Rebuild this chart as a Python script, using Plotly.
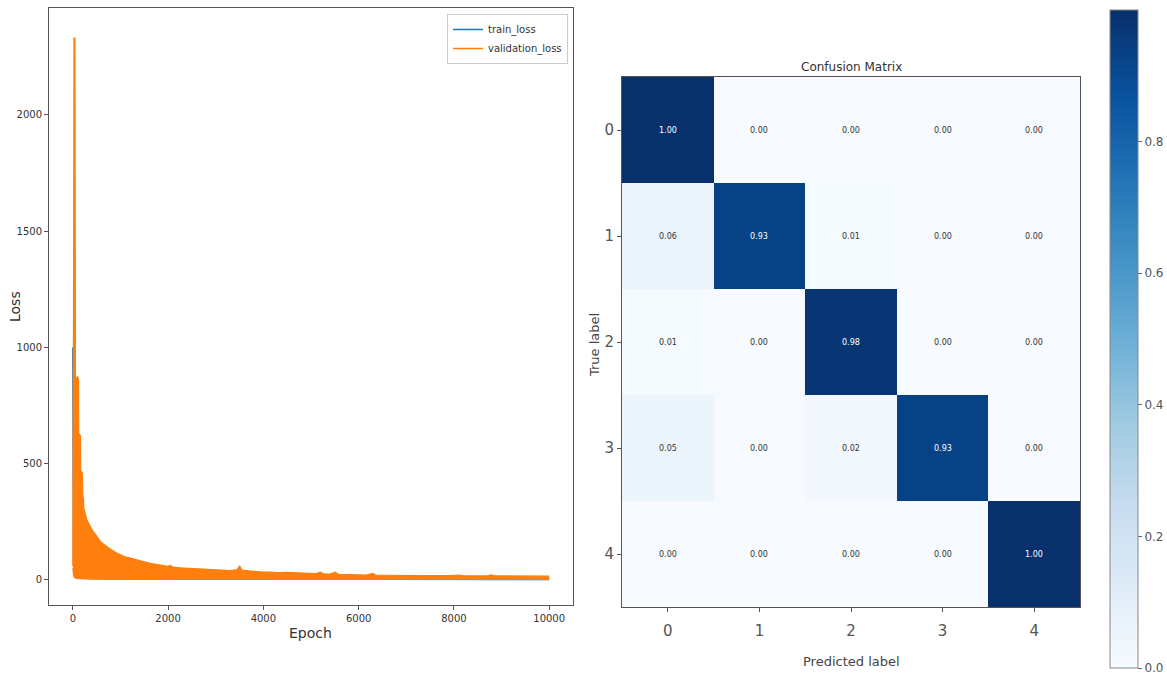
import plotly.graph_objects as go

# ---------------- data: loss curves ----------------
train_epoch = [0, 5, 15, 30, 60, 100, 300, 1000, 3000, 6000, 10000]
train_loss = [1000, 300, 80, 30, 15, 10, 6, 4, 3, 2.5, 2]

val_epoch = [0, 8, 15, 25, 45, 55, 80, 100, 120, 125, 160, 165, 200, 212, 225, 230,
             260, 300, 340, 370, 420, 480, 527, 580, 640, 700, 763, 830, 900, 1000,
             1080, 1150, 1230, 1314, 1400, 1500, 1630, 1750, 1880, 2000, 2050, 2100,
             2250, 2400, 2550, 2700, 2850, 3000, 3150, 3300, 3450, 3500, 3550, 3700,
             3850, 3990, 4150, 4300, 4500, 4650, 4800, 4950, 5100, 5200, 5260, 5400,
             5500, 5580, 5750, 5950, 6150, 6300, 6360, 6550, 6750, 6950, 7150, 7350,
             7550, 7750, 7950, 8100, 8200, 8450, 8700, 8780, 8850, 9100, 9350, 9600,
             9850, 10000]
val_upper = [60, 400, 1200, 2330, 2330, 880, 860, 875, 860, 630, 620, 470, 460, 360, 350, 310,
             290, 255, 240, 229, 210, 195, 182, 165, 155, 145, 136, 128, 118, 108,
             100, 97, 92, 89, 84, 78, 71, 66, 62, 58, 62, 55,
             52, 50, 48, 46, 45, 44, 42, 40, 44, 61, 42, 38,
             35, 33, 34, 31, 32, 30, 29, 28, 27, 33, 26, 25,
             33, 24, 23, 22, 21, 28, 20, 20, 19, 19, 18, 18,
             19, 18, 18, 21, 18, 17, 17, 22, 17, 17, 17, 16,
             17, 16]
val_lower_epoch = [0, 15, 40, 100, 500, 2000, 10000]
val_lower = [50, 15, 8, 5, 3, 2, 2]

x_ticks = [0, 2000, 4000, 6000, 8000, 10000]
y_ticks = [0, 500, 1000, 1500, 2000]

# ---------------- data: confusion matrix ----------------
classes = ["0", "1", "2", "3", "4"]
cm = [
    [1.00, 0.00, 0.00, 0.00, 0.00],
    [0.06, 0.93, 0.01, 0.00, 0.00],
    [0.01, 0.00, 0.98, 0.00, 0.00],
    [0.05, 0.00, 0.02, 0.93, 0.00],
    [0.00, 0.00, 0.00, 0.00, 1.00],
]
cbar_ticks = [0.0, 0.2, 0.4, 0.6, 0.8]

W, H = 1167, 679
BLUE = "#1f77b4"
ORANGE = "#ff7f0e"
blues = ["#f7fbff", "#deebf7", "#c6dbef", "#9ecae1", "#6baed6",
         "#4292c6", "#2171b5", "#08519c", "#08306b"]
blues_scale = [[i / (len(blues) - 1), c] for i, c in enumerate(blues)]

fig = go.Figure()

# train loss (under the validation band)
fig.add_trace(go.Scatter(x=train_epoch, y=train_loss, mode="lines",
                         line=dict(color=BLUE, width=1.5), name="train_loss",
                         xaxis="x", yaxis="y"))
# validation loss band (lower then upper filled)
fig.add_trace(go.Scatter(x=val_lower_epoch, y=val_lower, mode="lines",
                         line=dict(color=ORANGE, width=1), showlegend=False,
                         hoverinfo="skip", xaxis="x", yaxis="y"))
fig.add_trace(go.Scatter(x=val_epoch, y=val_upper, mode="lines",
                         line=dict(color=ORANGE, width=1.2), fill="tonexty",
                         fillcolor=ORANGE, showlegend=False, name="validation_loss",
                         xaxis="x", yaxis="y"))
# legend entry for validation loss
fig.add_trace(go.Scatter(x=[None], y=[None], mode="lines",
                         line=dict(color=ORANGE, width=1.5), name="validation_loss",
                         xaxis="x", yaxis="y"))

# confusion matrix heatmap
fig.add_trace(go.Heatmap(z=cm, x=list(range(len(classes))), y=list(range(len(classes))),
                         colorscale=blues_scale, zmin=0, zmax=1.0,
                         xaxis="x2", yaxis="y2", showscale=True,
                         colorbar=dict(x=1110 / W, xanchor="left", xpad=0,
                                       y=1 - 10 / H, yanchor="top", ypad=0,
                                       len=658 / H, lenmode="fraction",
                                       thickness=28, outlinecolor="#888", outlinewidth=1,
                                       tickvals=cbar_ticks,
                                       ticktext=[f"{v:.1f}" for v in cbar_ticks],
                                       ticks="outside", ticklen=4, tickcolor="#666",
                                       tickfont=dict(size=12, color="#555"))))

annotations = []
for i, row in enumerate(cm):
    for j, v in enumerate(row):
        annotations.append(dict(x=j, y=i, xref="x2", yref="y2", text=f"{v:.2f}",
                                showarrow=False, xanchor="center", yanchor="middle",
                                font=dict(size=8, color="white" if v > 0.5 else "#333")))


def label(x, y, text, size, color, angle=0):
    return dict(x=x / W, y=1 - y / H, xref="paper", yref="paper", text=text,
                textangle=angle, showarrow=False, xanchor="center", yanchor="middle",
                font=dict(size=size, color=color))


annotations += [
    label(15, 307, "Loss", 14, "#333", -90),
    label(310, 633, "Epoch", 14, "#333"),
    label(851, 67, "Confusion Matrix", 12, "#333"),
    label(851, 661, "Predicted label", 13, "#444"),
    label(594, 345, "True label", 13, "#444", -90),
]

axis_common = dict(showgrid=False, zeroline=False, showline=True, mirror=True,
                   linecolor="#555", linewidth=1, ticks="outside", ticklen=4,
                   tickcolor="#555", automargin=False)

fig.update_layout(
    width=W, height=H,
    margin=dict(l=0, r=0, t=0, b=0),
    paper_bgcolor="white", plot_bgcolor="white",
    font=dict(family="DejaVu Sans", color="#333"),
    xaxis=dict(domain=[49 / W, 573 / W], range=[-500, 10500], tickvals=x_ticks,
               ticktext=[str(t) for t in x_ticks], anchor="y",
               tickfont=dict(size=10, color="#333"), **axis_common),
    yaxis=dict(domain=[1 - 605 / H, 1 - 8 / H], range=[-108, 2460], tickvals=y_ticks,
               ticktext=[str(t) for t in y_ticks], anchor="x",
               tickfont=dict(size=10, color="#333"), **axis_common),
    xaxis2=dict(domain=[622 / W, 1080 / W], range=[-0.5, 4.5],
                tickvals=list(range(len(classes))), ticktext=classes, anchor="y2",
                ticklabelstandoff=6,
                tickfont=dict(size=15, color="#555"), **axis_common),
    yaxis2=dict(domain=[1 - 607 / H, 1 - 77 / H], range=[4.5, -0.5],
                tickvals=list(range(len(classes))), ticktext=classes, anchor="x2",
                tickfont=dict(size=15, color="#555"), **axis_common),
    legend=dict(x=568 / W, xanchor="right", y=1 - 14 / H, yanchor="top",
                bgcolor="white", bordercolor="#ccc", borderwidth=1,
                font=dict(size=10, color="#333"), tracegroupgap=0,
                traceorder="normal"),
    annotations=annotations,
    showlegend=True,
)

fig.write_html("out.html", config={"displayModeBar": False},
               post_script="document.body.style.margin='0px';document.body.style.overflow='hidden';")
